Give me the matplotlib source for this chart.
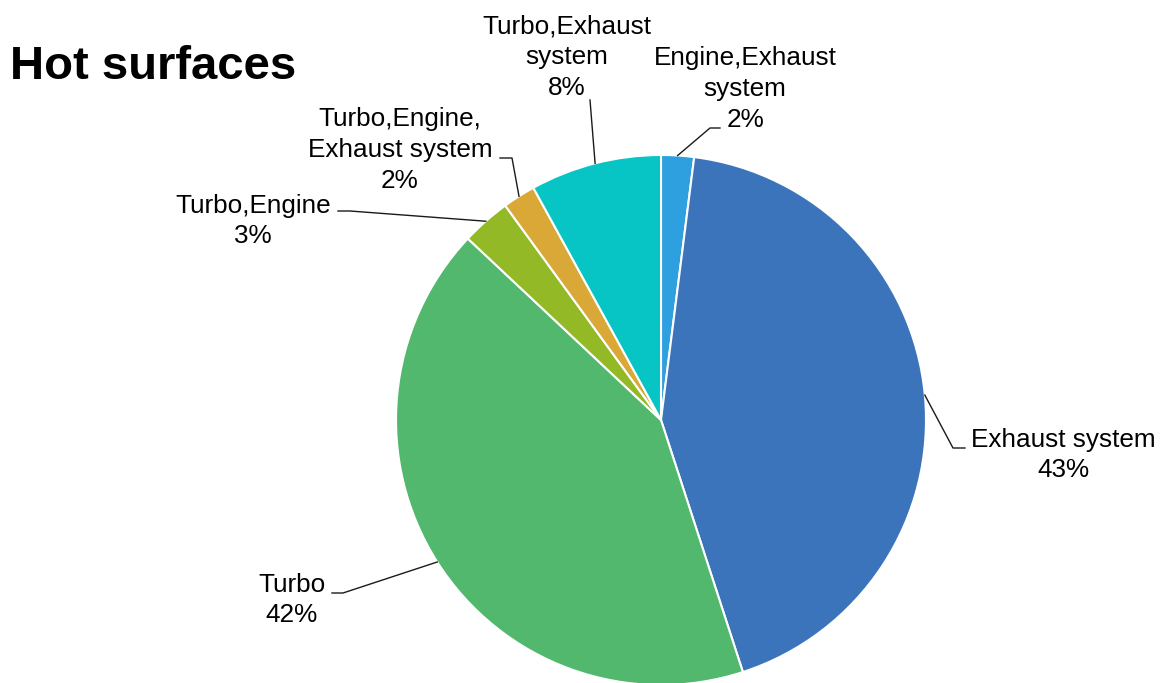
import numpy as np
import matplotlib.pyplot as plt

# slices, clockwise from 12 o'clock
categories = ["Engine,Exhaust\nsystem", "Exhaust system", "Turbo",
              "Turbo,Engine", "Turbo,Engine,\nExhaust system", "Turbo,Exhaust\nsystem"]
shares = [2, 43, 42, 3, 2, 8]
colors = ["#2E9FDF", "#3B74BA", "#52B86D", "#93B927", "#D9A837", "#07C4C5"]

# label block centres and leader elbows, in pixel coordinates
label_pos = [(745, 89), (1063, 455), (292, 600), (253, 221), (400, 150), (567, 57)]
elbows = [[(710, 128), (720, 128)],
          [(953, 448), (965, 448)],
          [(343, 593), (332, 593)],
          [(350, 211), (338, 211)],
          [(512, 158), (500, 158)],
          [(590, 100)]]

plt.rcParams['font.family'] = ['Liberation Sans', 'DejaVu Sans']

W, H = 1160, 683
fig = plt.figure(figsize=(W / 100, H / 100), dpi=100)
ax = fig.add_axes([0, 0, 1, 1])

cx, cy, r = 661, 420, 265
# y axis runs downward like screen pixels, so counterclock=True turns clockwise on screen
wedges, _ = ax.pie(shares, colors=colors, startangle=-90, counterclock=True,
                   center=(cx, cy), radius=r,
                   wedgeprops=dict(edgecolor="white", linewidth=1.5))
ax.set_xlim(0, W)
ax.set_ylim(H, 0)
ax.set_aspect('equal', adjustable='box')
ax.axis('off')

for w, name, val, pos, elb in zip(wedges, categories, shares, label_pos, elbows):
    mid = np.deg2rad((w.theta1 + w.theta2) / 2)
    ax_pt = (cx + r * np.cos(mid), cy + r * np.sin(mid))
    pts = [ax_pt] + elb
    ax.plot([p[0] for p in pts], [p[1] for p in pts], color="#1a1a1a", lw=1.0)
    ax.text(pos[0], pos[1], f"{name}\n{val}%", ha="center", va="center",
            fontsize=18.8, linespacing=1.36, color="black")

ax.text(10, 67, "Hot surfaces", fontsize=34, fontweight="bold",
        ha="left", va="center", color="black")

fig.savefig("out.png", dpi=100)
